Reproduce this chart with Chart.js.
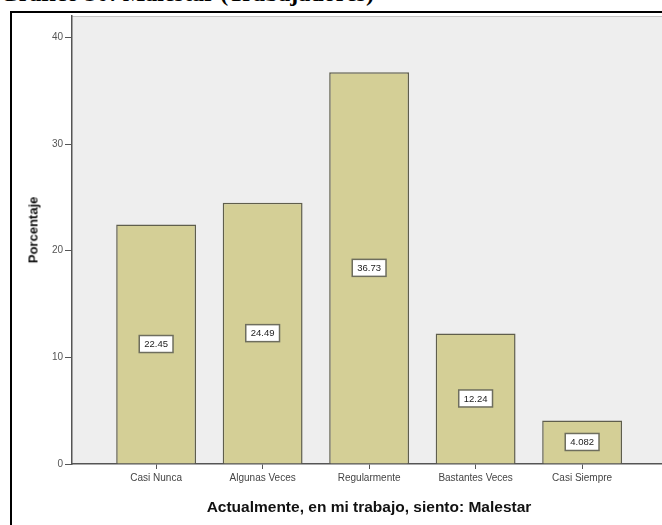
<!DOCTYPE html>
<html>
<head>
<meta charset="utf-8">
<script src="https://cdn.jsdelivr.net/npm/chart.js@4"></script>
<style>
  html, body { margin: 0; padding: 0; background: #fff; width: 662px; height: 525px; overflow: hidden; }
  #heading { position: absolute; left: 0; top: -19px; font: bold 24px "Liberation Serif", serif; line-height: 24px; color: #000; white-space: nowrap; }
  #frame { position: absolute; left: 10px; top: 11px; width: 700px; height: 600px; border: 2px solid #000; }
  #wrap { position: absolute; left: 0; top: 0; width: 662px; height: 525px; }
  .axisTitle { position: absolute; font: bold 13px "Liberation Sans", Arial, sans-serif; color: #111; white-space: nowrap; }
  #yTitle { left: 33px; top: 230px; transform: translate(-50%, -50%) rotate(-90deg); }
  #xTitle { left: 369px; top: 507px; transform: translate(-50%, -50%); font-size: 15.5px; }
</style>
</head>
<body>
<div id="heading">Gráfico 30: Malestar (Trabajadores)</div>
<div id="frame"></div>
<div id="wrap"><canvas id="chart" width="662" height="525"></canvas></div>
<div class="axisTitle" id="yTitle">Porcentaje</div>
<div class="axisTitle" id="xTitle">Actualmente, en mi trabajo, siento: Malestar</div>
<script>
// Values
const categories = ["Casi Nunca", "Algunas Veces", "Regularmente", "Bastantes Veces", "Casi Siempre"];
const percentages = [22.45, 24.49, 36.73, 12.24, 4.082];
const valueLabels = ["22.45", "24.49", "36.73", "12.24", "4.082"];
const yTicks = [0, 10, 20, 30, 40];

// grey plot background like SPSS
const plotBackground = {
    id: "plotBackground",
    beforeDraw(chart) {
        const { ctx, chartArea: a } = chart;
        ctx.save();
        ctx.fillStyle = "#eeeeee";
        ctx.fillRect(a.left, a.top, a.right - a.left, a.bottom - a.top);
        ctx.strokeStyle = "#c4c4c4";
        ctx.lineWidth = 1;
        ctx.beginPath();
        ctx.moveTo(a.left, a.top + 0.5);
        ctx.lineTo(a.right, a.top + 0.5);
        ctx.stroke();
        ctx.restore();
    }
};

// boxed value labels in the middle of each bar
const valueBoxes = {
    id: "valueBoxes",
    afterDatasetsDraw(chart) {
        const ctx = chart.ctx;
        const meta = chart.getDatasetMeta(0);
        ctx.save();
        ctx.font = "9.5px 'Liberation Sans', Arial, sans-serif";
        ctx.textAlign = "center";
        ctx.textBaseline = "middle";
        meta.data.forEach(function(bar, i) {
            const text = valueLabels[i];
            const cy = (bar.y + bar.base) / 2;
            const w = ctx.measureText(text).width + 10;
            const h = 17;
            ctx.fillStyle = "#ffffff";
            ctx.fillRect(bar.x - w / 2, cy - h / 2, w, h);
            ctx.strokeStyle = "#6e6e5e";
            ctx.lineWidth = 1.5;
            ctx.strokeRect(bar.x - w / 2, cy - h / 2, w, h);
            ctx.fillStyle = "#222";
            ctx.fillText(text, bar.x, cy + 0.5);
        });
        ctx.restore();
    }
};

new Chart(document.getElementById("chart"), {
    type: "bar",
    data: {
        datasets: [{
            label: "Porcentaje",
            data: categories.map((c, i) => ({ x: i, y: percentages[i] })),
            backgroundColor: "#d4cf96",
            borderColor: "#5f5e4c",
            borderWidth: 1.5,
            barPercentage: 0.75,
            categoryPercentage: 1
        }]
    },
    options: {
        responsive: false,
        animation: false,
        layout: { padding: { top: 16, left: 0, right: 0, bottom: 0 } },
        plugins: {
            legend: { display: false },
            tooltip: { enabled: false }
        },
        scales: {
            x: {
                type: "linear",
                offset: false,
                min: -0.79,
                max: 4.75,
                afterBuildTicks: s => { s.ticks = categories.map((c, i) => ({ value: i })); },
                afterFit: s => { s.height = 61; },
                ticks: {
                    autoSkip: false,
                    maxRotation: 0,
                    padding: 3,
                    color: "#444",
                    font: { family: "'Liberation Sans', Arial, sans-serif", size: 10 },
                    callback: v => categories[v]
                },
                grid: { offset: false, drawOnChartArea: false, tickLength: 5, color: "#555" },
                border: { color: "#555", width: 1.5 }
            },
            y: {
                min: 0,
                max: 42,
                afterBuildTicks: s => { s.ticks = yTicks.map(v => ({ value: v })); },
                afterFit: s => { s.width = 72; },
                ticks: {
                    padding: 2,
                    color: "#555",
                    font: { family: "'Liberation Sans', Arial, sans-serif", size: 10 }
                },
                grid: { drawOnChartArea: false, tickLength: 7, color: "#555" },
                border: { color: "#555", width: 1.5 }
            }
        }
    },
    plugins: [plotBackground, valueBoxes]
});
</script>
</body>
</html>
